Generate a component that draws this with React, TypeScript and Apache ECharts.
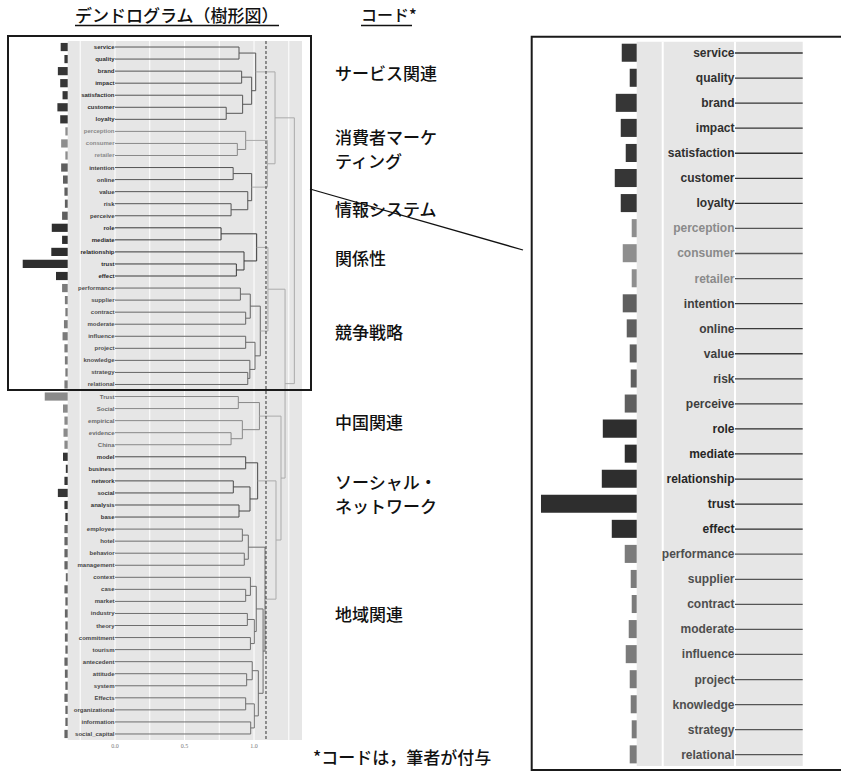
import { useEffect, useRef } from 'react';
import * as echarts from 'echarts';

// ---------------- data ----------------
const leafNames = [
  'service', 'quality', 'brand', 'impact', 'satisfaction', 'customer', 'loyalty',
  'perception', 'consumer', 'retailer',
  'intention', 'online', 'value', 'risk', 'perceive',
  'role', 'mediate', 'relationship', 'trust', 'effect',
  'performance', 'supplier', 'contract', 'moderate', 'influence', 'project', 'knowledge', 'strategy', 'relational',
  'Trust', 'Social', 'empirical', 'evidence', 'China',
  'model', 'business', 'network', 'social', 'analysis', 'base',
  'employee', 'hotel', 'behavior', 'management', 'context', 'case', 'market', 'industry', 'theory',
  'commitment', 'tourism', 'antecedent', 'attitude', 'system', 'Effects', 'organizational', 'information', 'social_capital',
];

// number of leaves in each of the 8 clusters (in leaf order)
const clusterSizes = [7, 3, 5, 5, 9, 5, 6, 18];

// code frequency shown as bars (arbitrary units)
const barValues = [
  15, 7, 21, 16, 11, 22, 16,
  5, 14, 5,
  14, 10, 7, 6, 12,
  34, 12, 35, 96, 25,
  12, 6, 5, 8, 11, 7, 6, 5, 7,
  49, 10, 7, 9, 7,
  10, 4, 7, 21, 7, 5,
  7, 7, 7, 7, 4, 7, 5, 6, 5,
  6, 5, 7, 6, 5, 7, 5, 5, 7,
];

// merges: [childA, childB, height]; '#k' refers to merge k
const merges: [string, string, number][] = [
  ['service', 'quality', 0.892],
  ['brand', 'impact', 0.911],
  ['customer', 'loyalty', 0.80],
  ['satisfaction', '#2', 0.918],
  ['#1', '#3', 0.983],
  ['#0', '#4', 1.012],
  ['consumer', 'retailer', 0.88],
  ['perception', '#6', 0.94],
  ['intention', 'online', 0.85],
  ['risk', 'perceive', 0.835],
  ['value', '#9', 0.955],
  ['#8', '#10', 0.983],
  ['#7', '#11', 1.096],
  ['#5', '#12', 1.151],
  ['role', 'mediate', 0.763],
  ['trust', 'effect', 0.873],
  ['relationship', '#15', 0.928],
  ['#14', '#16', 1.019],
  ['performance', 'supplier', 0.902],
  ['contract', 'moderate', 0.94],
  ['#18', '#19', 0.973],
  ['influence', 'project', 0.94],
  ['strategy', 'relational', 0.955],
  ['knowledge', '#22', 0.97],
  ['#21', '#23', 1.007],
  ['#20', '#24', 1.045],
  ['#17', '#25', 1.10],
  ['Trust', 'Social', 0.887],
  ['evidence', 'China', 0.835],
  ['empirical', '#28', 0.916],
  ['#27', '#29', 1.039],
  ['model', 'business', 0.94],
  ['network', 'social', 0.851],
  ['analysis', 'base', 0.892],
  ['#32', '#33', 0.971],
  ['#31', '#34', 1.026],
  ['employee', 'hotel', 0.916],
  ['behavior', 'management', 0.93],
  ['#36', '#37', 0.959],
  ['case', 'market', 0.94],
  ['context', '#39', 0.974],
  ['industry', 'theory', 0.952],
  ['commitment', 'tourism', 0.974],
  ['#41', '#42', 1.002],
  ['#40', '#43', 1.016],
  ['attitude', 'system', 0.947],
  ['antecedent', '#45', 0.987],
  ['Effects', 'organizational', 0.94],
  ['information', 'social_capital', 0.976],
  ['#47', '#48', 1.002],
  ['#46', '#49', 1.031],
  ['#44', '#50', 1.065],
  ['#38', '#51', 1.079],
  ['#35', '#52', 1.158],
  ['#30', '#53', 1.194],
  ['#26', '#54', 1.223],
  ['#13', '#55', 1.29],
];

const cutHeight = 1.086;
const gridValues = [-0.25, 0, 0.25, 0.5, 0.75, 1.0, 1.25];
const tickValues = [0, 0.5, 1.0];
const zoomRowCount = 29;

const titleLeft = 'デンドログラム（樹形図）';
const titleRight = 'コード*';
const clusterTitles = [
  ['サービス関連'],
  ['消費者マーケ', 'ティング'],
  ['情報システム'],
  ['関係性'],
  ['競争戦略'],
  ['中国関連'],
  ['ソーシャル・', 'ネットワーク'],
  ['地域関連'],
];
const footnote = '*コードは，筆者が付与';

// ---------------- styles / layout ----------------
const barColors = ['#363636', '#8e8e8e', '#5f5f5f', '#2e2e2e', '#7b7b7b', '#8a8a8a', '#353535', '#666666'];
const textColors = ['#303030', '#8a8a8a', '#3e3e3e', '#262626', '#4e4e4e', '#6a6a6a', '#333333', '#474747'];
const lineColors = ['#555555', '#888888', '#555555', '#3a3a3a', '#666666', '#888888', '#4a4a4a', '#6e6e6e', '#ababab'];
const lineColorsZoom = ['#333333', '#555555', '#3a3a3a', '#2a2a2a', '#555555', '#555555', '#333333', '#444444', '#888888'];
const clusterTitleY = [72, 136, 208, 257, 331, 421, 481, 613];
const CJK = "'Noto Sans CJK JP', sans-serif";
const SANS = "'Liberation Sans', Arial, sans-serif";

// ---------------- derived tree geometry ----------------
const leafCluster: number[] = [];
clusterSizes.forEach((n, c) => { for (let i = 0; i < n; i++) leafCluster.push(c); });
const leafIdx: Record<string, number> = {};
leafNames.forEach((n, i) => { leafIdx[n] = i; });

type Node = { y: number; h: number; c: number };
const mergeNodes: Node[] = [];
const segs: number[][] = [];
const resolve = (ref: string): Node => {
  if (ref.startsWith('#')) return mergeNodes[parseInt(ref.slice(1), 10)];
  const i = leafIdx[ref];
  return { y: i, h: 0, c: leafCluster[i] };
};
merges.forEach(([a, b, h]) => {
  const na = resolve(a);
  const nb = resolve(b);
  const c = na.c === nb.c && na.c < 8 ? na.c : 8;
  segs.push([h, na.y, h, nb.y, c]);
  segs.push([na.h, na.y, h, na.y, c]);
  segs.push([nb.h, nb.y, h, nb.y, c]);
  mergeNodes.push({ y: (na.y + nb.y) / 2, h, c });
});

const rightXMax = 0.234;
const rightYMax = 28.45;
const rightSegs = segs
  .filter((s) => Math.max(s[1], s[3]) <= rightYMax && Math.min(s[0], s[2]) < rightXMax && s[0] !== s[2])
  .map((s) => [s[0], s[1], Math.min(s[2], rightXMax), s[3], s[4]]);

function segSeries(xi: number, data: number[][], lw: number, colors: string[]) {
  return {
    type: 'custom', xAxisIndex: xi, yAxisIndex: xi, silent: true, z: 3,
    data, encode: { x: [0, 2], y: [1, 3] },
    renderItem: (_p: any, api: any) => {
      const p1 = api.coord([api.value(0), api.value(1)]);
      const p2 = api.coord([api.value(2), api.value(3)]);
      return {
        type: 'line',
        shape: { x1: p1[0], y1: p1[1], x2: p2[0], y2: p2[1] },
        style: { stroke: colors[api.value(4)], lineWidth: lw },
      };
    },
  };
}

function gridLineSeries(xi: number, lw: number) {
  return {
    type: 'custom', xAxisIndex: xi, yAxisIndex: xi, silent: true, z: 1,
    data: gridValues.map((v) => [v]),
    renderItem: (params: any, api: any) => {
      const v = api.value(0);
      const cs = params.coordSys;
      const x = api.coord([v, 0])[0];
      if (x < cs.x || x > cs.x + cs.width) return null;
      return {
        type: 'line',
        shape: { x1: x, y1: cs.y, x2: x, y2: cs.y + cs.height },
        style: { stroke: '#ffffff', lineWidth: lw },
      };
    },
  };
}

function labelSeries(xi: number, count: number, fontSize: number) {
  return {
    type: 'custom', xAxisIndex: xi, yAxisIndex: xi, silent: true, z: 4,
    data: leafNames.slice(0, count).map((_n, i) => [0, i]),
    renderItem: (_p: any, api: any) => {
      const i = api.value(1);
      const p = api.coord([0, i]);
      return {
        type: 'text',
        x: p[0] - 0.5, y: p[1],
        style: {
          text: leafNames[i], fill: textColors[leafCluster[i]],
          fontSize, fontWeight: 'bold', fontFamily: SANS,
          align: 'right', verticalAlign: 'middle',
        },
      };
    },
  };
}

export default function App() {
  const ref = useRef<HTMLDivElement>(null);
  useEffect(() => {
    if (!ref.current) return;
    const chart = echarts.init(ref.current, undefined, { renderer: 'svg' });

    const graphic: any[] = [
      { type: 'rect', z: 100, shape: { x: 8, y: 36, width: 303, height: 354 }, style: { fill: 'none', stroke: '#1a1a1a', lineWidth: 2 } },
      { type: 'rect', z: 100, shape: { x: 531.7, y: 36.7, width: 330, height: 733.3 }, style: { fill: 'none', stroke: '#1a1a1a', lineWidth: 2 } },
      { type: 'line', z: 100, shape: { x1: 310, y1: 189, x2: 523, y2: 250 }, style: { stroke: '#111111', lineWidth: 1.3 } },
      { type: 'text', z: 100, x: 75, y: 14, style: { text: titleLeft, fontSize: 17, fontWeight: 500, fontFamily: CJK, fill: '#111111', verticalAlign: 'middle' } },
      { type: 'line', z: 100, shape: { x1: 75, y1: 25.5, x2: 279, y2: 25.5 }, style: { stroke: '#111111', lineWidth: 1.3 } },
      { type: 'text', z: 100, x: 361, y: 14, style: { text: titleRight, fontSize: 16, fontWeight: 500, fontFamily: CJK, fill: '#111111', verticalAlign: 'middle' } },
      { type: 'line', z: 100, shape: { x1: 361, y1: 25.5, x2: 412, y2: 25.5 }, style: { stroke: '#111111', lineWidth: 1.3 } },
      { type: 'text', z: 100, x: 313, y: 756, style: { text: footnote, fontSize: 17, fontWeight: 500, fontFamily: CJK, fill: '#111111', verticalAlign: 'middle' } },
    ];
    clusterTitles.forEach((lines, k) => {
      lines.forEach((t, j) => {
        graphic.push({
          type: 'text', z: 100, x: 335, y: clusterTitleY[k] + j * 24,
          style: { text: t, fontSize: 17, fontWeight: 500, fontFamily: CJK, fill: '#111111', verticalAlign: 'middle', lineHeight: 18 },
        });
      });
    });

    const barData = (n: number) => barValues.slice(0, n).map((v, i) => ({ value: v, itemStyle: { color: barColors[leafCluster[i]] } }));

    chart.setOption({
      animation: false,
      backgroundColor: '#ffffff',
      grid: [
        { left: 19.9, top: 41, width: 47.8, height: 699, outerBoundsMode: 'none' },
        { left: 67.7, top: 41, width: 234.3, height: 699, show: true, backgroundColor: '#e6e6e6', borderWidth: 0, outerBoundsMode: 'none' },
        { left: 535, top: 40.2, width: 101.7, height: 726.7, outerBoundsMode: 'none' },
        { left: 636.7, top: 41.7, width: 166, height: 724.3, show: true, backgroundColor: '#e6e6e6', borderWidth: 0, outerBoundsMode: 'none' },
      ],
      xAxis: [
        { gridIndex: 0, type: 'value', inverse: true, min: 0, max: 102, show: false },
        {
          gridIndex: 1, type: 'value', min: -0.34, max: 1.345,
          axisLine: { show: false }, axisTick: { show: false }, splitLine: { show: false },
          axisLabel: {
            customValues: tickValues, margin: 3, fontSize: 6, color: '#777777', fontFamily: "'Liberation Serif', serif",
            formatter: (v: number) => (tickValues.some((t) => Math.abs(t - v) < 1e-6) ? v.toFixed(1) : ''),
          },
        },
        { gridIndex: 2, type: 'value', inverse: true, min: 0, max: 102, show: false },
        { gridIndex: 3, type: 'value', min: -0.34, max: rightXMax, show: false },
      ],
      yAxis: [
        { gridIndex: 0, type: 'category', data: leafNames, inverse: true, show: false },
        { gridIndex: 1, type: 'value', min: -0.5, max: 57.5, inverse: true, show: false },
        { gridIndex: 2, type: 'category', data: leafNames.slice(0, zoomRowCount), inverse: true, show: false },
        { gridIndex: 3, type: 'value', min: -0.45, max: rightYMax, inverse: true, show: false },
      ],
      series: [
        { type: 'bar', xAxisIndex: 0, yAxisIndex: 0, data: barData(leafNames.length), barWidth: '68%', silent: true },
        { type: 'bar', xAxisIndex: 2, yAxisIndex: 2, data: barData(zoomRowCount), barWidth: '72%', silent: true },
        gridLineSeries(1, 1),
        gridLineSeries(3, 2),
        segSeries(1, segs, 1, lineColors),
        segSeries(3, rightSegs, 1.3, lineColorsZoom),
        labelSeries(1, leafNames.length, 6),
        labelSeries(3, zoomRowCount, 12),
        {
          type: 'custom', xAxisIndex: 1, yAxisIndex: 1, silent: true, z: 5,
          data: [[cutHeight]],
          renderItem: (params: any, api: any) => {
            const cs = params.coordSys;
            const x = api.coord([api.value(0), 0])[0];
            return {
              type: 'line',
              shape: { x1: x, y1: cs.y, x2: x, y2: cs.y + cs.height },
              style: { stroke: '#333333', lineWidth: 1, lineDash: [3, 2] },
            };
          },
        },
      ],
      graphic,
    });
    return () => chart.dispose();
  }, []);
  return <div ref={ref} style={{ position: 'absolute', left: 0, top: 0, width: 841, height: 771 }} />;
}
